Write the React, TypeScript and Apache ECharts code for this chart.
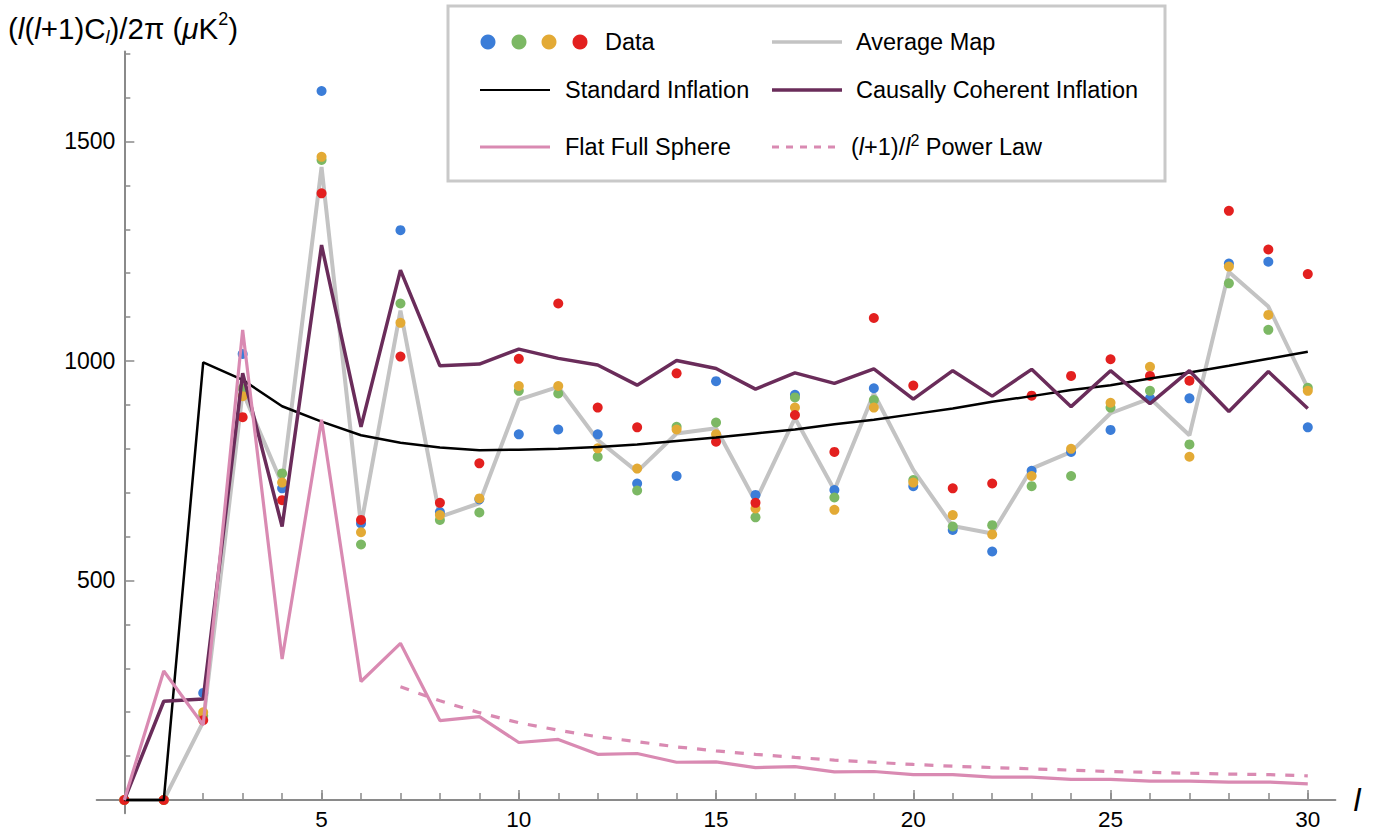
import React, { useEffect, useRef } from "react";
import * as echarts from "echarts";

const ells = [0, 1, 2, 3, 4, 5, 6, 7, 8, 9, 10, 11, 12, 13, 14, 15, 16, 17, 18, 19, 20, 21, 22, 23, 24, 25, 26, 27, 28, 29, 30];
const dataBlue = [0, 0, 244, 1016, 710, 1615, 630, 1298, 656, 685, 833, 844, 833, 721, 738, 954, 695, 923, 706, 938, 715, 615, 566, 750, 793, 843, 915, 915, 1222, 1226, 849];
const dataGreen = [0, 0, 192, 938, 744, 1458, 582, 1131, 638, 655, 932, 926, 782, 705, 850, 860, 644, 917, 689, 911, 729, 623, 626, 715, 738, 894, 932, 810, 1177, 1071, 939];
const dataYellow = [0, 0, 200, 920, 723, 1465, 610, 1087, 649, 687, 943, 943, 801, 755, 844, 833, 664, 894, 661, 894, 723, 649, 605, 738, 800, 905, 987, 782, 1215, 1105, 932];
const dataRed = [0, 0, 182, 872, 683, 1382, 638, 1010, 677, 767, 1005, 1131, 894, 849, 972, 816, 677, 877, 793, 1098, 944, 710, 721, 921, 966, 1004, 966, 955, 1342, 1254, 1198];
const averageMap = [0, 0, 178, 930, 720, 1442, 626, 1115, 645, 676, 912, 941, 820, 748, 835, 847, 680, 870, 706, 926, 752, 624, 607, 755, 793, 881, 915, 831, 1203, 1124, 938];
const standardInflation = [0, 0, 997, 957, 897, 862, 831, 814, 803, 797, 798, 800, 804, 810, 818, 826, 835, 844, 856, 866, 879, 892, 907, 920, 934, 945, 960, 974, 989, 1005, 1021];
const causallyCoherent = [0, 225, 230, 972, 623, 1264, 850, 1207, 989, 993, 1027, 1006, 991, 945, 1001, 983, 936, 973, 949, 982, 913, 978, 920, 981, 896, 978, 903, 978, 885, 976, 892];
const flatFullSphere = [0, 294, 171, 1071, 321, 866, 270, 357, 181, 190, 131, 138, 104, 106, 86, 87, 74, 76, 64, 65, 58, 58, 52, 52, 47, 47, 43, 43, 41, 41, 37];
const powerLawEll = [7, 8, 9, 10, 11, 12, 13, 14, 15, 16, 17, 18, 19, 20, 21, 22, 23, 24, 25, 26, 27, 28, 29, 30];
const powerLaw = [258, 226, 199, 176, 159, 144, 133, 121, 112, 104, 97, 91, 86, 81, 77, 74, 71, 68, 65, 63, 61, 59, 58, 55];

const xLabelValues = [5, 10, 15, 20, 25, 30];
const yLabelValues = [500, 1000, 1500];
const yMinorValues = [100, 200, 300, 400, 600, 700, 800, 900, 1100, 1200, 1300, 1400, 1600, 1700];

const C_BLUE = "#3b7dd8";
const C_GREEN = "#7cb864";
const C_YELLOW = "#e3aa35";
const C_RED = "#e3201f";
const C_GRAY = "#c3c3c3";
const C_PURPLE = "#6a2c5a";
const C_PINK = "#d98ab2";
const AXIS = "#8a8a8a";
const FONT = "'Liberation Sans', Arial, Helvetica, sans-serif";

const pairs = (xs: number[], ys: number[]) => xs.map((x, i) => [x, ys[i]]);

export default function App() {
  const ref = useRef<HTMLDivElement>(null);
  useEffect(() => {
    if (!ref.current) return;
    const chart = echarts.init(ref.current, null, { renderer: "svg" });

    const lineSeries = (name: string, ys: number[], color: string, width: number, z: number, xs = ells, type: any = "solid") => ({
      name,
      type: "line",
      data: pairs(xs, ys),
      showSymbol: false,
      symbol: "none",
      lineStyle: { color, width, type },
      z,
      silent: true,
    });
    const dotSeries = (name: string, ys: number[], color: string, z: number) => ({
      name,
      type: "scatter",
      data: pairs(ells, ys),
      symbolSize: 10,
      itemStyle: { color, opacity: 1 },
      z,
      clip: false,
      silent: true,
    });

    const LZ = 101;
    const txt = (x: number, y: number, text: string) => ({
      type: "text",
      x,
      y,
      z: LZ,
      style: {
        text,
        fontSize: 23.5,
        fontFamily: FONT,
        fill: "#000",
        verticalAlign: "middle",
        align: "left",
      },
    });
    const legLine = (x1: number, x2: number, y: number, color: string, width: number, dash?: number[]) => ({
      type: "line",
      z: LZ,
      shape: { x1, y1: y, x2, y2: y },
      style: { stroke: color, lineWidth: width, lineDash: dash },
    });
    const legDot = (cx: number, cy: number, color: string) => ({
      type: "circle",
      z: LZ,
      shape: { cx, cy, r: 7.5 },
      style: { fill: color },
    });

    const mkRich = (fs: number, lh: number, sfs: number) => ({
      a: { fontSize: fs, fontFamily: FONT, lineHeight: lh, verticalAlign: "middle", fill: "#000" },
      i: { fontSize: fs, fontFamily: FONT, fontStyle: "italic", lineHeight: lh, verticalAlign: "middle", fill: "#000" },
      sup: { fontSize: sfs, fontFamily: FONT, lineHeight: sfs, verticalAlign: "top", fill: "#000" },
      sub: { fontSize: sfs, fontFamily: FONT, fontStyle: "italic", lineHeight: sfs, verticalAlign: "bottom", fill: "#000" },
    });

    const yRange = { type: "value", min: -30, max: 1705, position: "left", splitLine: { show: false } };
    const xRange = { type: "value", min: -0.7, max: 30.7, position: "bottom", splitLine: { show: false } };

    chart.setOption({
      animation: false,
      backgroundColor: "#fff",
      grid: [
        { left: 96.7, right: 39.6, top: 51.5, bottom: 19.8, containLabel: false, outerBoundsMode: "none" },
        // label grid: its left/bottom edges sit on the l = 0 and value = 0 lines of the main grid
        { left: 124.3, right: 39.6, top: 51.5, bottom: 33, containLabel: false, outerBoundsMode: "none" },
      ],
      xAxis: [
        {
          ...xRange,
          axisLine: { show: true, onZero: true, onZeroAxisIndex: 0, lineStyle: { color: AXIS, width: 2 } },
          axisTick: { show: true, inside: true, length: 7, customValues: ells.slice(1), lineStyle: { color: AXIS, width: 1.5 } },
          axisLabel: { show: false },
        },
        {
          ...xRange,
          axisLine: { show: false, onZero: true, onZeroAxisIndex: 0 },
          axisTick: { show: true, inside: true, length: 10, customValues: xLabelValues, lineStyle: { color: AXIS, width: 1.5 } },
          axisLabel: { show: false },
        },
        {
          type: "value",
          gridIndex: 1,
          min: 0,
          max: 30.7,
          position: "bottom",
          splitLine: { show: false },
          axisLine: { show: false, onZero: false },
          axisTick: { show: false },
          axisLabel: { customValues: xLabelValues, fontSize: 22.5, fontFamily: FONT, color: "#000", margin: 8, formatter: (v: number) => String(v) },
        },
      ],
      yAxis: [
        {
          ...yRange,
          axisLine: { show: true, onZero: true, onZeroAxisIndex: 0, lineStyle: { color: AXIS, width: 2 } },
          axisTick: { show: true, inside: true, length: 10, customValues: yLabelValues, lineStyle: { color: AXIS, width: 1.5 } },
          axisLabel: { show: false },
        },
        {
          ...yRange,
          axisLine: { show: false, onZero: true, onZeroAxisIndex: 0 },
          axisTick: { show: true, inside: true, length: 6, customValues: yMinorValues, lineStyle: { color: AXIS, width: 1.5 } },
          axisLabel: { show: false },
        },
        {
          type: "value",
          gridIndex: 1,
          min: 0,
          max: 1705,
          position: "left",
          splitLine: { show: false },
          axisLine: { show: false, onZero: false },
          axisTick: { show: false },
          axisLabel: { customValues: yLabelValues, fontSize: 23, fontFamily: FONT, color: "#000", margin: 9, formatter: (v: number) => String(v) },
        },
      ],
      series: [
        lineSeries("Average Map", averageMap, C_GRAY, 4, 1),
        dotSeries("Data blue", dataBlue, C_BLUE, 2),
        dotSeries("Data green", dataGreen, C_GREEN, 3),
        dotSeries("Data yellow", dataYellow, C_YELLOW, 4),
        dotSeries("Data red", dataRed, C_RED, 5),
        lineSeries("Standard Inflation", standardInflation, "#000", 2.5, 6),
        lineSeries("Causally Coherent Inflation", causallyCoherent, C_PURPLE, 3.5, 7),
        lineSeries("Flat Full Sphere", flatFullSphere, C_PINK, 3.2, 8),
        lineSeries("(l+1)/l^2 Power Law", powerLaw, C_PINK, 3.2, 8, powerLawEll, [9, 10]),
      ],
      graphic: [
        {
          type: "text",
          x: 8,
          y: 28,
          style: {
            text: "{a|(}{i|l}{a|(}{i|l}{a|+1)C}{sub|l}{a|)/2π (}{i|μ}{a|K}{sup|2}{a|)}",
            verticalAlign: "middle",
            align: "left",
            rich: mkRich(29.5, 36, 18),
          },
        },
        {
          type: "text",
          x: 1357,
          y: 800,
          style: { text: "l", fontSize: 32, fontStyle: "italic", fontFamily: FONT, fill: "#000", align: "center", verticalAlign: "middle" },
        },
        {
          type: "rect",
          z: 100,
          shape: { x: 448, y: 6, width: 717, height: 175 },
          style: { fill: "#fff", stroke: "#c9c9c9", lineWidth: 3 },
        },
        legDot(488, 42, C_BLUE),
        legDot(519, 42, C_GREEN),
        legDot(549, 42, C_YELLOW),
        legDot(580, 42, C_RED),
        txt(605, 42, "Data"),
        legLine(772, 842, 42, C_GRAY, 3.5),
        txt(856, 42, "Average Map"),
        legLine(480, 550, 90, "#000", 2),
        txt(565, 90, "Standard Inflation"),
        legLine(772, 842, 90, C_PURPLE, 3.5),
        txt(856, 90, "Causally Coherent Inflation"),
        legLine(480, 550, 147, C_PINK, 3),
        txt(565, 147, "Flat Full Sphere"),
        legLine(772, 840, 147, C_PINK, 3, [7, 7]),
        {
          type: "text",
          x: 851,
          y: 147,
          z: LZ,
          style: {
            text: "{a|(}{i|l}{a|+1)/}{i|l}{sup|2}{a| Power Law}",
            verticalAlign: "middle",
            align: "left",
            rich: mkRich(23.5, 30, 16),
          },
        },
      ],
    });
    return () => chart.dispose();
  }, []);
  return <div ref={ref} style={{ position: "absolute", left: 0, top: 0, width: 1375, height: 833 }} />;
}
